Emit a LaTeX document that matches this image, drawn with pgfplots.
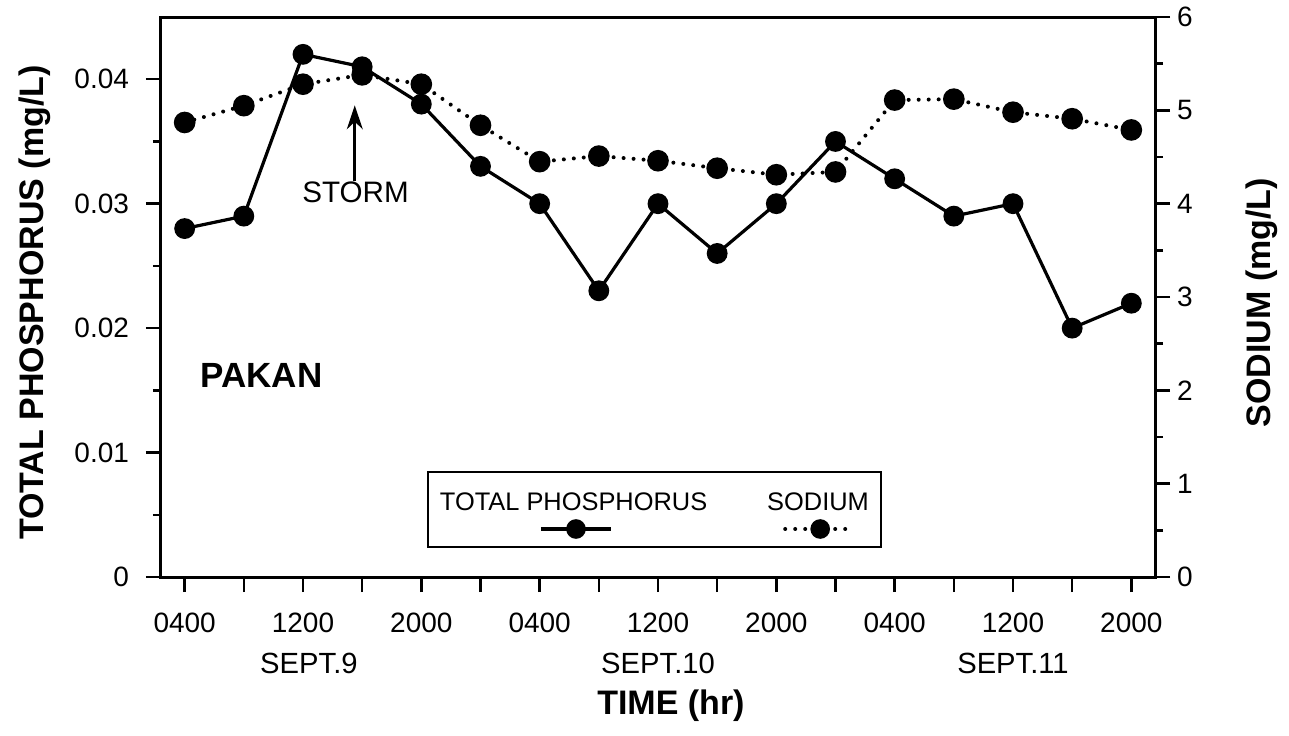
\documentclass[border=0pt]{standalone}
\usepackage{fontspec}
\setmainfont{Liberation Sans}
\usepackage{pgfplots}
\pgfplotsset{compat=1.18}
\usetikzlibrary{arrows.meta}

\pgfplotstableread{
x   tp     na
0   0.028  4.87
4   0.029  5.05
8   0.042  5.28
12  0.041  5.38
16  0.038  5.28
20  0.033  4.84
24  0.030  4.45
28  0.023  4.51
32  0.030  4.46
36  0.026  4.38
40  0.030  4.31
44  0.035  4.34
48  0.032  5.11
52  0.029  5.12
56  0.030  4.98
60  0.020  4.91
64  0.022  4.79
}\datatable

\pgfplotsset{
  common/.style={
    scale only axis, width=497pt, height=280pt,
    xmin=-1.6, xmax=65.6,
    axis line style={line width=1.5pt},
    tick align=outside,
    major tick length=7.5pt, minor tick length=4pt,
    every tick/.style={line width=1.2pt, black},
    every minor tick/.style={line width=1.2pt, black},
    ticklabel style={font=\fontsize{14}{16}\selectfont},
    /pgf/number format/assume math mode=true,
    clip=false,
  }
}

\begin{document}
\begin{tikzpicture}
\path[use as bounding box] (-80.5pt,-79pt) rectangle (564pt,288.5pt);

\begin{axis}[common,
  ymin=0, ymax=0.045,
  tick pos=left,
  xtick={0,4,...,64},
  xticklabels={0400,,1200,,2000,,0400,,1200,,2000,,0400,,1200,,2000},
  xticklabel style={yshift=-7pt},
  ytick={0,0.01,0.02,0.03,0.04},
  yticklabels={0,0.01,0.02,0.03,0.04},
  yticklabel style={xshift=-5pt},
  minor ytick={0.005,0.015,0.025,0.035},
  xlabel={TIME (hr)},
  xlabel style={font=\bfseries\fontsize{17}{20}\selectfont, at={(axis description cs:0.513,0)}, anchor=center, yshift=-64.5pt},
  ylabel={TOTAL PHOSPHORUS (mg/L)},
  ylabel style={font=\bfseries\fontsize{17}{20}\selectfont, at={(axis description cs:0,0.49)}, anchor=center, yshift=63pt},
]
\addplot[black, line width=1.6pt, mark=*, mark size=4.4pt] table[x=x, y=tp] {\datatable};
\node[font=\bfseries\fontsize{17.5}{20}\selectfont, anchor=west] at (axis cs:0.6,0.0162) {PAKAN};
\node[font=\fontsize{14.8}{17}\selectfont] at (axis cs:11.55,0.0309) {STORM};
\draw[-{Stealth[length=12pt,width=8pt]}, line width=1.3pt] (axis cs:11.5,0.0318) -- (axis cs:11.5,0.0379);
\node[font=\fontsize{14.6}{17}\selectfont] at (axis cs:8.4,0) [yshift=-43pt] {SEPT.9};
\node[font=\fontsize{14.6}{17}\selectfont] at (axis cs:32,0) [yshift=-43pt] {SEPT.10};
\node[font=\fontsize{14.6}{17}\selectfont] at (axis cs:56,0) [yshift=-43pt] {SEPT.11};
\end{axis}

\begin{axis}[common,
  ymin=0, ymax=6,
  axis x line=none,
  xtick=\empty,
  axis y line*=right,
  ytick={0,1,2,3,4,5,6},
  yticklabels={0,1,2,3,4,5,6},
  minor ytick={0.5,1.5,2.5,3.5,4.5,5.5},
  ylabel={SODIUM (mg/L)},
  ylabel style={font=\bfseries\fontsize{17}{20}\selectfont, at={(axis description cs:1,0.49)}, anchor=center, yshift=-53.5pt},
  legend columns=2,
  legend style={at={(rel axis cs:0.2676,0.0518)}, anchor=south west,
    draw=black, line width=1pt, inner xsep=6pt, inner ysep=0pt,
    font=\fontsize{12.7}{15}\selectfont,
    nodes={inner sep=0pt},
    cells={anchor=base west},
    /tikz/column 2/.style={column sep=30pt}},
]
\addplot[forget plot, black, line width=2pt, line cap=round, dash pattern=on 0pt off 5pt, mark=*, mark size=4.4pt, mark options={solid}] table[x=x, y=na] {\datatable};

\addlegendimage{legend image code/.code={
  \path[draw=none, fill=none] (0pt,-18.45pt) -- (0pt,19.1pt);
  \draw[overlay, black, solid, line width=1.6pt] (50.5pt,-9.45pt) -- (85.5pt,-9.45pt);
  \fill[overlay, black] (68pt,-9.45pt) circle (4.4pt);
}}
\addlegendentry{TOTAL PHOSPHORUS}
\addlegendimage{legend image code/.code={
  \path[draw=none, fill=none] (0pt,-18.45pt) -- (0pt,19.1pt);
  \draw[overlay, black, line width=2pt, line cap=round, dash pattern=on 0pt off 5pt] (9pt,-9.45pt) -- (43pt,-9.45pt);
  \fill[overlay, black] (26.5pt,-9.45pt) circle (4.4pt);
}}
\addlegendentry{SODIUM}
\end{axis}
\end{tikzpicture}
\end{document}
